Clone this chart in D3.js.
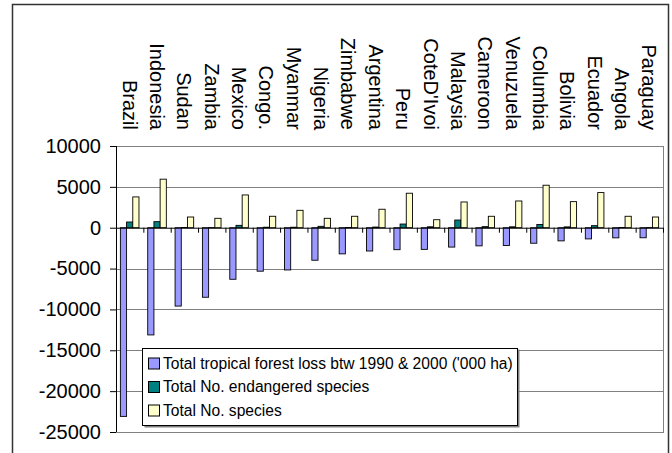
<!DOCTYPE html>
<html>
<head>
<meta charset="utf-8">
<script src="https://cdn.jsdelivr.net/npm/d3@7"></script>
<style>
  body { margin: 0; background: #fff; }
  svg { display: block; font-family: Arial, "Liberation Sans", sans-serif; }
</style>
</head>
<body>
<div id="chart"></div>
<script>
const countries = ["Brazil", "Indonesia", "Sudan", "Zambia", "Mexico", "Congo.", "Myanmar",
  "Nigeria", "Zimbabwe", "Argentina", "Peru", "CoteD'Ivoi", "Malaysia", "Cameroon",
  "Venuzuela", "Columbia", "Bolivia", "Ecuador", "Angola", "Paraguay"];
const forestLoss = [-23090, -13120, -9590, -8510, -6310, -5320, -5170, -3980, -3200, -2850,
  -2690, -2650, -2370, -2220, -2180, -1900, -1610, -1370, -1240, -1230];
const endangered = [700, 740, 30, 20, 290, 60, 60, 170, 30, 80,
  450, 110, 940, 130, 110, 400, 100, 250, 30, 20];
const species = [3770, 5940, 1310, 1150, 4010, 1400, 2130, 1150, 1400, 2260,
  4220, 980, 3150, 1400, 3270, 5200, 3190, 4300, 1400, 1310];
const seriesNames = ["Total tropical forest loss btw 1990 & 2000 ('000 ha)",
  "Total No. endangered species", "Total No. species"];
const yTicks = [10000, 5000, 0, -5000, -10000, -15000, -20000, -25000];

const COLORS = ["#9999ff", "#008080", "#ffffcc"];
const width = 672, height = 453;
const plot = { left: 116, right: 663, top: 146, bottom: 432 };

const series = [forestLoss, endangered, species];

const svg = d3.select("#chart").append("svg")
  .attr("width", width)
  .attr("height", height);

// outer chart frame, cut off at the bottom of the picture
svg.append("path")
  .attr("d", `M12.5,${height} V4.5 H668.5 V${height}`)
  .attr("fill", "none")
  .attr("stroke", "#333")
  .attr("stroke-width", 1.5);

const x0 = d3.scaleBand()
  .domain(countries)
  .range([plot.left, plot.right])
  .paddingInner(0.32)
  .paddingOuter(0.16);

const x1 = d3.scaleBand()
  .domain(d3.range(series.length))
  .range([0, x0.bandwidth()]);

const y = d3.scaleLinear()
  .domain([-25000, 10000])
  .range([plot.bottom, plot.top]);

// gridlines
svg.append("g")
  .selectAll("line")
  .data(yTicks.filter((d) => d !== 0))
  .join("line")
  .attr("x1", plot.left)
  .attr("x2", plot.right)
  .attr("y1", (d) => Math.round(y(d)) + 0.5)
  .attr("y2", (d) => Math.round(y(d)) + 0.5)
  .attr("stroke", "#808080");

// plot border
svg.append("rect")
  .attr("x", plot.left + 0.5)
  .attr("y", Math.round(y(10000)) + 0.5)
  .attr("width", plot.right - plot.left)
  .attr("height", Math.round(y(-25000)) - Math.round(y(10000)))
  .attr("fill", "none")
  .attr("stroke", "#808080");

// bars
const groups = svg.append("g")
  .selectAll("g")
  .data(countries)
  .join("g")
  .attr("transform", (d) => `translate(${x0(d)},0)`);

groups.selectAll("rect")
  .data((d, i) => series.map((s, k) => ({ k, value: s[i] })))
  .join("rect")
  .attr("x", (d) => x1(d.k))
  .attr("width", x1.bandwidth())
  .attr("y", (d) => y(Math.max(0, d.value)))
  .attr("height", (d) => Math.abs(y(d.value) - y(0)))
  .attr("fill", (d) => COLORS[d.k])
  .attr("stroke", "#000")
  .attr("stroke-width", 0.9);

// zero axis with ticks between categories
const xb = d3.scaleLinear().domain([0, countries.length]).range([plot.left, plot.right]);
svg.append("g")
  .attr("transform", `translate(0,${y(0)})`)
  .call(d3.axisBottom(xb).tickValues(d3.range(countries.length + 1))
    .tickSize(5).tickFormat(""))
  .call((g) => g.select(".domain").attr("d", `M${plot.left},0.5H${plot.right}`));

// y axis
svg.append("g")
  .attr("transform", `translate(${plot.left},0)`)
  .call(d3.axisLeft(y).tickValues(yTicks).tickSize(6).tickPadding(9).tickFormat((d) => String(d)))
  .call((g) => g.select(".domain").attr("d", `M0.5,${y(10000)}V${y(-25000)}`))
  .call((g) => g.selectAll("text")
    .attr("font-size", 20)
    .attr("font-family", "Arial, 'Liberation Sans', sans-serif")
    .attr("fill", "#000"));

svg.selectAll(".tick line, .domain").attr("stroke", "#000");

// category labels at the top, reading top to bottom
svg.append("g")
  .selectAll("text")
  .data(countries)
  .join("text")
  .attr("transform", (d) => `translate(${x0(d) + x0.bandwidth() / 2},130) rotate(90)`)
  .attr("text-anchor", "end")
  .attr("dy", "0.35em")
  .attr("font-size", 20)
  .text((d) => d);

// legend
const legend = svg.append("g");
legend.append("rect")
  .attr("x", 144.5)
  .attr("y", 349.5)
  .attr("width", 375)
  .attr("height", 78)
  .attr("fill", "#808080");
legend.append("rect")
  .attr("x", 142.5)
  .attr("y", 348.5)
  .attr("width", 375)
  .attr("height", 77)
  .attr("fill", "#fff")
  .attr("stroke", "#000");

const items = legend.selectAll("g.item")
  .data(seriesNames)
  .join("g")
  .attr("class", "item")
  .attr("transform", (d, i) => `translate(148,${363.5 + i * 23.5})`);

items.append("rect")
  .attr("x", 0.5)
  .attr("y", -5.5)
  .attr("width", 11)
  .attr("height", 11)
  .attr("fill", (d, i) => COLORS[i])
  .attr("stroke", "#000");

items.append("text")
  .attr("x", 15)
  .attr("dy", "0.35em")
  .attr("font-size", 15.6)
  .text((d) => d);
</script>
</body>
</html>
